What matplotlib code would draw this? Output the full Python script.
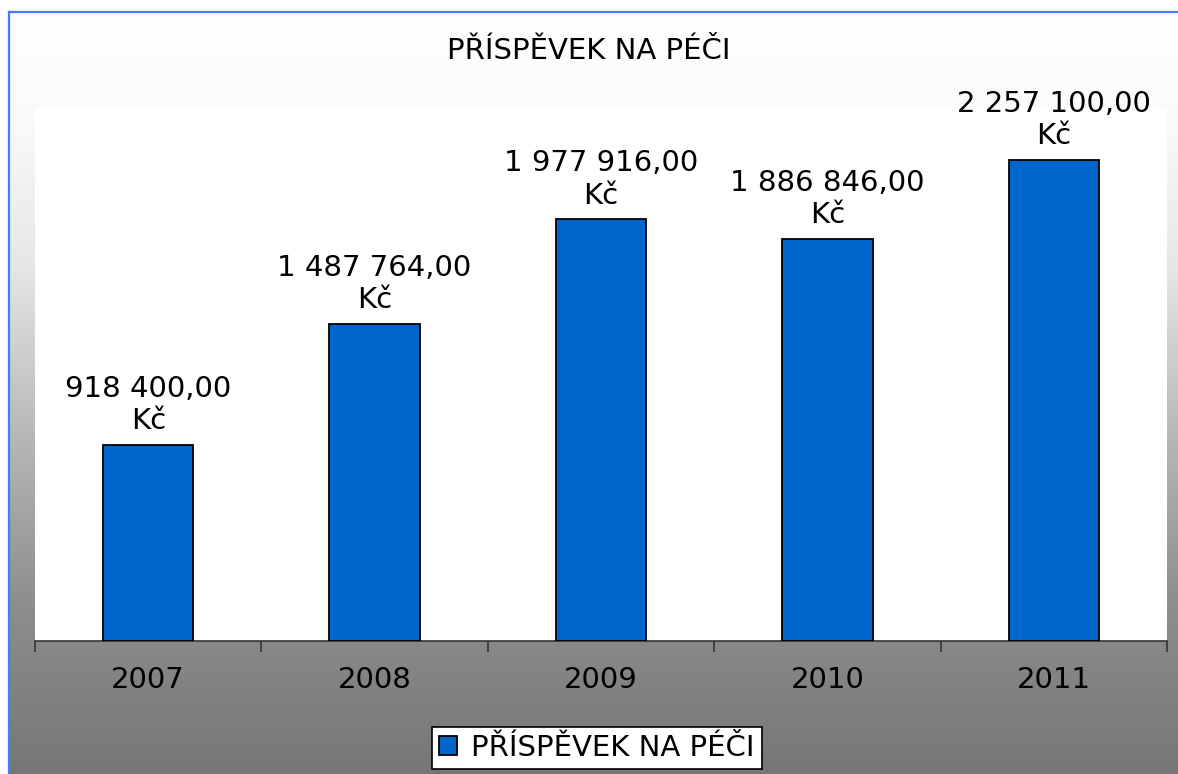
import numpy as np
import matplotlib.pyplot as plt
import matplotlib as mpl
from matplotlib.lines import Line2D

mpl.rcParams['font.family'] = ['DejaVu Sans']

# data
years = ['2007', '2008', '2009', '2010', '2011']
values = [918400.00, 1487764.00, 1977916.00, 1886846.00, 2257100.00]
title = 'PŘÍSPĚVEK NA PÉČI'
series_name = 'PŘÍSPĚVEK NA PÉČI'

W, H = 1178, 774
FS = 21
fig = plt.figure(figsize=(W / 100, H / 100), dpi=100)
fig.patch.set_facecolor('white')

# gray gradient background inside the blue frame
bx0, by0 = 9, 12
bg = fig.add_axes([bx0 / W, 0, 1 - bx0 / W, (H - by0) / H], zorder=-10)
ys = np.arange(by0, H)
stops_y = [12, 120, 267, 433, 600, 774]
stops_v = [255, 250, 230, 184, 142, 118]
g = np.interp(ys, stops_y, stops_v) / 255.0
img = np.repeat(np.repeat(g[:, None, None], 3, axis=2), 4, axis=1)
bg.imshow(img, aspect='auto', interpolation='nearest')
bg.set_axis_off()

# blue frame
fcol = '#4a78ff'
fig.add_artist(Line2D([bx0 / W, 1], [1 - by0 / H, 1 - by0 / H], color=fcol, lw=1.6))
fig.add_artist(Line2D([bx0 / W, bx0 / W], [0, 1 - by0 / H], color=fcol, lw=1.6))

# plot area
ax = fig.add_axes([35 / W, 133 / H, (1167 - 35) / W, (641 - 108) / H])
ax.set_facecolor('white')
x = np.arange(len(years))
bars = ax.bar(x, values, width=0.4, color='#0066CC', edgecolor='black',
              linewidth=1.3, label=series_name, zorder=3)
ax.set_xlim(-0.5, len(years) - 0.5)
ax.set_ylim(0, 2500000)

def fmt(v):
    s = f'{v:,.2f}'.replace(',', ' ').replace('.', ',')
    return s + '\nKč'

for xi, v in zip(x, values):
    ax.annotate(fmt(v), (xi, v), xytext=(0, 7), textcoords='offset points',
                ha='center', va='bottom', fontsize=FS, linespacing=1.2,
                annotation_clip=False)

for s in ['left', 'right', 'top']:
    ax.spines[s].set_visible(False)
ax.spines['bottom'].set_color('#333333')
ax.spines['bottom'].set_linewidth(1.2)
ax.set_yticks([])
ax.set_xticks(x)
ax.set_xticklabels(years, fontsize=FS)
ax.tick_params(axis='x', which='major', length=0, pad=18)
ax.set_xticks(np.arange(-0.5, len(years)), minor=True)
ax.tick_params(axis='x', which='minor', length=8, width=1.2, color='#333333',
               direction='out')

fig.text(0.5, 1 - 51 / H, title, ha='center', va='center', fontsize=FS)

leg = fig.legend(handles=[bars], labels=[series_name], loc='center',
                 bbox_to_anchor=(597 / W, 1 - 748 / H), fontsize=FS,
                 frameon=True, fancybox=False, edgecolor='black',
                 facecolor='white', framealpha=1,
                 handlelength=0.6, handleheight=0.6, handletextpad=0.5,
                 borderpad=0.25, borderaxespad=0)
leg.get_frame().set_linewidth(1.2)

fig.savefig('out.png', dpi=100)
